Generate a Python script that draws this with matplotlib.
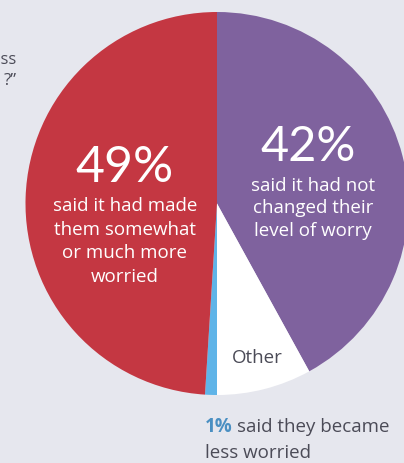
import matplotlib.pyplot as plt

# Share of responses, clockwise from the top
labels = ["Not changed", "Other", "Less worried", "More worried"]
shares = [42, 8, 1, 49]
colors = ["#7f629e", "#ffffff", "#5fb4e8", "#c43742"]

bg = "#e6e7ee"
text_col = "#4b4b57"

W, H = 404, 464
fig = plt.figure(figsize=(W / 100, H / 100), dpi=100, facecolor=bg)
ax = fig.add_axes([0, 0, 1, 1])
ax.set_facecolor(bg)

# work in pixel units, y measured from the top
def py(y):
    return H - y

ax.pie(shares, colors=colors, startangle=90, counterclock=False,
       center=(217, py(204.5)), radius=191.5,
       wedgeprops=dict(linewidth=0))
ax.set_xlim(0, W)
ax.set_ylim(0, H)
ax.set_aspect("equal")
ax.axis("off")

font = "Open Sans"
big = "Lato"
body = 13.5

# big percentages
ax.text(125, py(168), f"{shares[3]}%", color="white", fontsize=36,
        family=big, ha="center", va="center")
ax.text(308, py(147), f"{shares[0]}%", color="white", fontsize=35,
        family=big, ha="center", va="center")

red_lines = ["said it had made", "them somewhat", "or much more", "worried"]
for i, line in enumerate(red_lines):
    ax.text(125, py(206 + i * 23.7), line, color="white", fontsize=body,
            family=font, ha="center", va="center")

purple_lines = ["said it had not", "changed their", "level of worry"]
for i, line in enumerate(purple_lines):
    ax.text(313, py(186 + i * 22.5), line, color="white", fontsize=body,
            family=font, ha="center", va="center")

ax.text(257, py(358), "Other", color=text_col, fontsize=body,
        family=font, ha="center", va="center")

# note under the pie: bold share followed by the rest of the line
pct = ax.text(205, py(427), f"{shares[2]}%", color="#4a8fc2", fontsize=body,
              family=font, weight="bold", ha="left", va="center")
fig.canvas.draw()
bb = pct.get_window_extent().transformed(ax.transData.inverted())
ax.text(bb.x1 + 4, py(427), "said they became", color=text_col,
        fontsize=body, family=font, ha="left", va="center")
ax.text(205, py(453), "less worried", color=text_col, fontsize=body,
        family=font, ha="left", va="center")

# tail of the question text on the left
ax.text(17, py(60), "less", color=text_col, fontsize=12,
        family=font, ha="right", va="center")
ax.text(17, py(81), "?\u201d", color=text_col, fontsize=12,
        family=font, ha="right", va="center")

fig.savefig("out.png", dpi=100, facecolor=bg)
